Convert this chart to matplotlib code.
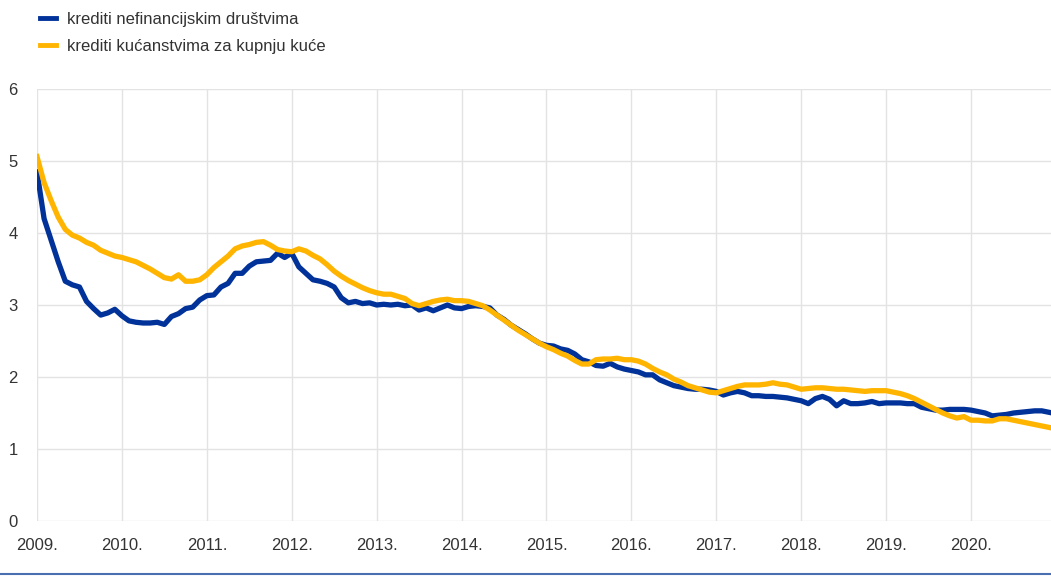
import matplotlib
matplotlib.use("Agg")
import matplotlib.pyplot as plt
import numpy as np

plt.rcParams['font.family'] = ['Liberation Sans', 'DejaVu Sans']

years = ["2009.", "2010.", "2011.", "2012.", "2013.", "2014.", "2015.",
         "2016.", "2017.", "2018.", "2019.", "2020."]

series_labels = ["krediti nefinancijskim društvima",
                 "krediti kućanstvima za kupnju kuće"]

# monthly values, Jan 2009 - Dec 2020
nfc = [
    4.85, 4.20, 3.90, 3.60, 3.33, 3.28, 3.25, 3.05, 2.95, 2.86, 2.89, 2.94,
    2.85, 2.78, 2.76, 2.75, 2.75, 2.76, 2.73, 2.84, 2.88, 2.95, 2.97, 3.07,
    3.13, 3.14, 3.25, 3.30, 3.44, 3.44, 3.54, 3.60, 3.61, 3.62, 3.72, 3.66,
    3.72, 3.53, 3.44, 3.35, 3.33, 3.30, 3.25, 3.10, 3.03, 3.05, 3.02, 3.03,
    3.00, 3.01, 3.00, 3.01, 2.99, 3.00, 2.93, 2.96, 2.92, 2.96, 3.00, 2.96,
    2.95, 2.98, 2.99, 2.98, 2.96, 2.86, 2.80, 2.72, 2.66, 2.60, 2.53, 2.47,
    2.44, 2.43, 2.39, 2.37, 2.32, 2.24, 2.21, 2.16, 2.15, 2.19, 2.14, 2.11,
    2.09, 2.07, 2.03, 2.03, 1.96, 1.92, 1.88, 1.86, 1.84, 1.83, 1.83, 1.82,
    1.80, 1.75, 1.78, 1.80, 1.78, 1.74, 1.74, 1.73, 1.73, 1.72, 1.71, 1.69,
    1.67, 1.63, 1.70, 1.73, 1.69, 1.60, 1.67, 1.63, 1.63, 1.64, 1.66, 1.63,
    1.64, 1.64, 1.64, 1.63, 1.63, 1.58, 1.56, 1.54, 1.54, 1.55, 1.55, 1.55,
    1.54, 1.52, 1.50, 1.46, 1.47, 1.48, 1.50, 1.51, 1.52, 1.53, 1.53, 1.51,
]

hh = [
    5.06, 4.70, 4.45, 4.22, 4.05, 3.97, 3.93, 3.87, 3.83, 3.76, 3.72, 3.68,
    3.66, 3.63, 3.60, 3.55, 3.50, 3.44, 3.38, 3.36, 3.42, 3.33, 3.33, 3.35,
    3.42, 3.52, 3.60, 3.68, 3.78, 3.82, 3.84, 3.87, 3.88, 3.83, 3.77, 3.75,
    3.74, 3.78, 3.75, 3.69, 3.64, 3.56, 3.47, 3.40, 3.34, 3.29, 3.24, 3.20,
    3.17, 3.15, 3.15, 3.12, 3.09, 3.02, 2.99, 3.02, 3.05, 3.07, 3.08, 3.06,
    3.06, 3.05, 3.02, 2.99, 2.93, 2.86, 2.79, 2.72, 2.65, 2.59, 2.53, 2.47,
    2.42, 2.38, 2.33, 2.29, 2.23, 2.18, 2.18, 2.24, 2.25, 2.25, 2.26, 2.24,
    2.24, 2.22, 2.18, 2.12, 2.07, 2.03, 1.97, 1.93, 1.88, 1.85, 1.82, 1.79,
    1.78, 1.81, 1.84, 1.87, 1.89, 1.89, 1.89, 1.90, 1.92, 1.90, 1.89, 1.86,
    1.83, 1.84, 1.85, 1.85, 1.84, 1.83, 1.83, 1.82, 1.81, 1.80, 1.81, 1.81,
    1.81, 1.79, 1.77, 1.74, 1.70, 1.65, 1.60, 1.55, 1.50, 1.46, 1.43, 1.45,
    1.40, 1.40, 1.39, 1.39, 1.42, 1.42, 1.40, 1.38, 1.36, 1.34, 1.32, 1.30,
]

x = np.arange(len(nfc))

fig = plt.figure(figsize=(10.51, 5.76), dpi=100)
ax = fig.add_axes([37/1051, 1 - 521/576, 1 - 37/1051, (521 - 89)/576])

c_blue = "#003299"
c_yellow = "#FFB400"

l1, = ax.plot(x, nfc, color=c_blue, lw=3.8, solid_joinstyle='round', zorder=3)
l2, = ax.plot(x, hh, color=c_yellow, lw=3.8, solid_joinstyle='round', zorder=4)

ax.set_xlim(0, 143.3)
ax.set_ylim(0, 6)
ax.set_yticks(range(0, 7))
ax.set_xticks(np.arange(0, 144, 12))
ax.set_xticklabels(years)

for s in ax.spines.values():
    s.set_visible(False)
ax.grid(True, color="#e3e3e3", lw=1.0, zorder=0)
ax.set_axisbelow(True)
ax.tick_params(axis='both', length=0, labelsize=12, colors="#333333")
ax.tick_params(axis='y', pad=14)
ax.tick_params(axis='x', pad=12)

fig.legend([l1, l2], series_labels, loc='upper left',
           bbox_to_anchor=(33/1051, 1 - 5/576), frameon=False,
           fontsize=12, handlelength=1.0, handletextpad=0.65,
           labelspacing=0.75, labelcolor="#333333", borderaxespad=0)
for h in fig.legends[0].legend_handles:
    h.set_linewidth(3.5)

fig.add_artist(plt.Line2D([0, 1], [1 - 573.5/576, 1 - 573.5/576],
                          color="#4a6fb0", lw=1.5, transform=fig.transFigure))

fig.savefig("out.png", dpi=100)
